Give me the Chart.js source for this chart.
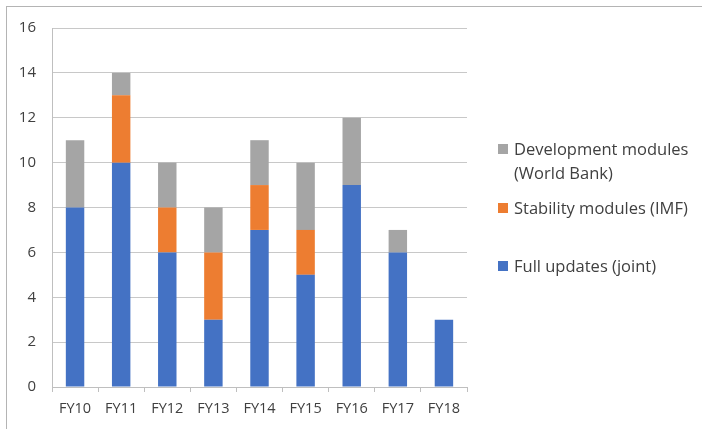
<!DOCTYPE html>
<html>
<head>
<meta charset="utf-8">
<script src="https://cdn.jsdelivr.net/npm/chart.js@4/dist/chart.umd.min.js"></script>
<style>
  html, body { margin: 0; padding: 0; background: #fff; }
  #wrap { position: relative; width: 702px; height: 429px; overflow: hidden; }
  #frame { position: absolute; left: 6px; top: 6px; width: 720px; height: 440px;
           border-top: 1px solid #b4b4b4; border-left: 1px solid #b4b4b4; box-sizing: border-box; }
  canvas { position: absolute; left: 0; top: 0; }
  .legend { position: absolute; left: 498px; font-family: "Open Sans", sans-serif;
            font-size: 16.5px; color: #404040; line-height: 24px; }
  .legend .sw { position: absolute; left: 0; top: 7px; width: 10px; height: 10px; }
  .legend .tx { position: absolute; left: 16px; top: 0; white-space: nowrap; }
</style>
</head>
<body>
<div id="wrap">
  <div id="frame"></div>
  <canvas id="c" width="702" height="429"></canvas>
  <div id="legend"></div>
</div>
<script>
const categories = ['FY10', 'FY11', 'FY12', 'FY13', 'FY14', 'FY15', 'FY16', 'FY17', 'FY18'];
const fullUpdates = [8, 10, 6, 3, 7, 5, 9, 6, 3];
const stabilityModules = [0, 3, 2, 3, 2, 2, 0, 0, 0];
const developmentModules = [3, 1, 2, 2, 2, 3, 3, 1, 0];
const yTicks = [0, 2, 4, 6, 8, 10, 12, 14, 16];

const seriesNames = ['Full updates (joint)', 'Stability modules (IMF)', 'Development modules\n(World Bank)'];
const seriesColors = ['#4472C4', '#ED7D31', '#A5A5A5'];

const ctx = document.getElementById('c');
const chart = new Chart(ctx, {
  type: 'bar',
  data: {
    labels: categories,
    datasets: [
      { label: seriesNames[0], data: fullUpdates, backgroundColor: seriesColors[0] },
      { label: seriesNames[1], data: stabilityModules, backgroundColor: seriesColors[1] },
      { label: seriesNames[2], data: developmentModules, backgroundColor: seriesColors[2] }
    ]
  },
  options: {
    responsive: false,
    animation: false,
    devicePixelRatio: 1,
    layout: { padding: { top: 28, right: 235, bottom: 0, left: 0 } },
    datasets: { bar: { barPercentage: 0.4, categoryPercentage: 1.0, borderWidth: 0 } },
    plugins: { legend: { display: false }, tooltip: { enabled: false } },
    scales: {
      x: {
        stacked: true,
        grid: { drawOnChartArea: false, drawTicks: true, tickLength: 5, offset: true, color: '#bfbfbf' },
        border: { color: '#bfbfbf' },
        ticks: { color: '#404040', font: { family: 'Open Sans', size: 14.5 }, padding: 8 },
        afterFit: s => { s.height = 42; }
      },
      y: {
        stacked: true,
        min: 0, max: 16,
        afterBuildTicks: s => { s.ticks = yTicks.map(v => ({ value: v })); },
        grid: { color: '#c8c8c8', drawTicks: false },
        border: { color: '#bfbfbf' },
        ticks: { color: '#404040', font: { family: 'Open Sans', size: 15 }, padding: 16 },
        afterFit: s => { s.width = 52; }
      }
    }
  }
});

// Legend, listed top-down in reverse series order
const legendEl = document.getElementById('legend');
const legendTops = [254, 196, 137];
[2, 1, 0].forEach(i => {
  const item = document.createElement('div');
  item.className = 'legend';
  item.style.top = legendTops[i] + 'px';
  const sw = document.createElement('div');
  sw.className = 'sw';
  sw.style.background = seriesColors[i];
  const tx = document.createElement('div');
  tx.className = 'tx';
  tx.innerHTML = seriesNames[i].split('\n').join('<br>');
  item.appendChild(sw);
  item.appendChild(tx);
  legendEl.appendChild(item);
});
</script>
</body>
</html>
